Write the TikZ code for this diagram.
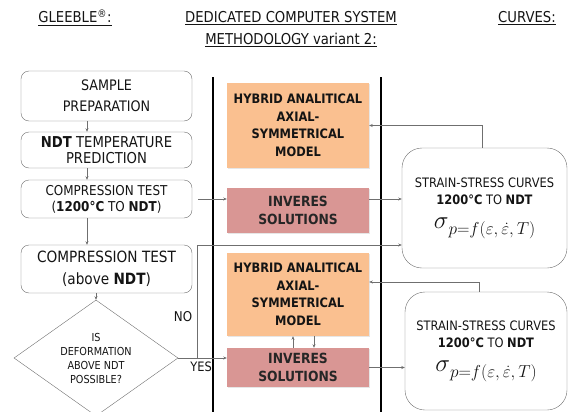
\documentclass[tikz,border=0pt]{standalone}
\usepackage{amsmath}
\usepackage[no-math]{fontspec}
\setmainfont{DejaVu Sans}[FakeStretch=0.88]
\usepackage{xcolor}
\usetikzlibrary{shapes,arrows.meta,positioning,calc,shadows}

\definecolor{modelorange}{HTML}{FAC090}
\definecolor{invred}{HTML}{D99694}
\definecolor{txtgray}{HTML}{141414}
\definecolor{linegray}{HTML}{6F6F6F}

\newcommand{\flowstress}{{\fontsize{24}{24}\selectfont$\sigma$}\raisebox{-6pt}{\fontsize{18}{18}\selectfont$p{=}f(\varepsilon,\dot{\varepsilon},T)$}}

\begin{document}
\begin{tikzpicture}[
    x=1pt, y=-1pt,
    title/.style={text=txtgray, align=center, font=\fontsize{15}{22}\selectfont},
    stepbox/.style={rectangle, rounded corners=8pt, draw=linegray, text=txtgray, align=center, minimum width=171pt, inner sep=2pt},
    decision/.style={diamond, aspect=1.4, draw=linegray, text=txtgray, align=center, inner sep=0pt, minimum width=164pt, minimum height=116pt, font=\fontsize{11}{14}\selectfont},
    modelbox/.style={rectangle, fill=modelorange, text=txtgray, align=center, minimum width=142pt, font=\bfseries\fontsize{13}{17.5}\selectfont, drop shadow={shadow xshift=1pt, shadow yshift=-1pt, opacity=0.2}},
    invbox/.style={rectangle, fill=invred, text=black!85, align=center, minimum width=142pt, font=\bfseries\fontsize{14}{18}\selectfont, drop shadow={shadow xshift=1pt, shadow yshift=-1pt, opacity=0.2}},
    curvebox/.style={rectangle, rounded corners=20pt, draw=linegray, text=txtgray, align=center, font=\fontsize{13}{17}\selectfont},
    sepline/.style={line width=2.5pt, black},
    arrow/.style={-{Stealth[length=3.5pt, width=3pt]}, linegray, line width=0.8pt}
]
\useasboundingbox (0,0) rectangle (570,412);

% Column headings
\node[title] (gleeble) at (75,18) {\underline{GLEEBLE\textsuperscript{®}:}};
\node[title] (dedicated) at (291,29) {\underline{DEDICATED COMPUTER SYSTEM}\\\underline{METHODOLOGY variant 2:}};
\node[title] (curveshead) at (527,18) {\underline{CURVES:}};

% Column separators
\draw[sepline] (213,77) -- (213,412);
\draw[sepline] (381,77) -- (381,412);

% Gleeble steps
\node[stepbox, minimum height=50pt, font=\fontsize{14.5}{21}\selectfont] (sample) at (106.5,96) {SAMPLE\\PREPARATION};
\node[stepbox, minimum height=36pt, font=\fontsize{15}{16}\selectfont] (ndtpred) at (106.5,150) {\textbf{NDT} TEMPERATURE\\PREDICTION};
\node[stepbox, minimum height=38pt, font=\fontsize{13.6}{16}\selectfont] (comptest) at (106.5,199) {COMPRESSION TEST\\(\textbf{1200°C} TO \textbf{NDT})};
\node[stepbox, minimum height=48pt, font=\fontsize{15.5}{22}\selectfont] (compabove) at (106.5,269) {COMPRESSION TEST\\(above \textbf{NDT})};
\node[decision] (possible) at (96,358) {IS\\DEFORMATION\\ABOVE NDT\\POSSIBLE?};

% Computer system
\node[modelbox, minimum height=85pt] (model1) at (298,125.5) {HYBRID ANALITICAL\\AXIAL-\\SYMMETRICAL\\MODEL};
\node[invbox, minimum height=45pt] (inv1) at (298,210.5) {INVERES\\SOLUTIONS};
\node[modelbox, minimum height=83pt] (model2) at (298,294.5) {HYBRID ANALITICAL\\AXIAL-\\SYMMETRICAL\\MODEL};
\node[invbox, minimum height=39pt] (inv2) at (298,367.5) {INVERES\\SOLUTIONS};

% Curves
\node[curvebox, minimum width=165pt, minimum height=120pt] (curves1) at (484.5,208) {STRAIN-STRESS CURVES\\\textbf{1200°C} TO \textbf{NDT}\\[7pt]\flowstress};
\node[curvebox, minimum width=162pt, minimum height=118pt] (curves2) at (486,351) {STRAIN-STRESS CURVES\\\textbf{1200°C} TO \textbf{NDT}\\[7pt]\flowstress};

% Connections
\draw[arrow] ([xshift=-19.5pt]sample.south) -- ([xshift=-19.5pt]ndtpred.north);
\draw[arrow] ([xshift=-19.5pt]ndtpred.south) -- ([xshift=-19.5pt]comptest.north);
\draw[arrow] ([xshift=-19.5pt]comptest.south) -- ([xshift=-19.5pt]compabove.north);
\draw[arrow] (compabove.south -| possible.north) -- (possible.north);

\draw[arrow] ([xshift=6pt]comptest.east) -- (comptest.east -| inv1.west);
\draw[arrow] (inv1.east |- comptest.east) -- (curves1.west |- comptest.east);
\draw[arrow] ([xshift=-2.5pt]curves1.north) |- (model1.east);

\draw[arrow] (possible.east) -- (possible.east -| inv2.west)
    node[pos=0.47, below, text=txtgray, font=\fontsize{13}{13}\selectfont] {YES};
\coordinate (nofork) at (197,358);
\draw[arrow] (nofork) |- ([yshift=-37pt]curves1.west);
\node[text=txtgray, font=\fontsize{13.5}{13.5}\selectfont] (nolabel) at (183,317) {NO};

\draw[arrow] ([xshift=-5pt]inv2.north) -- ([xshift=-5pt]model2.south);
\draw[arrow] ([xshift=16pt]model2.south) -- ([xshift=16pt]inv2.north);
\draw[arrow] ([xshift=-7pt]curves2.north) |- ([yshift=12.5pt]model2.east);
\draw[arrow] (inv2.east) -- (inv2.east -| curves2.west);
\end{tikzpicture}
\end{document}
